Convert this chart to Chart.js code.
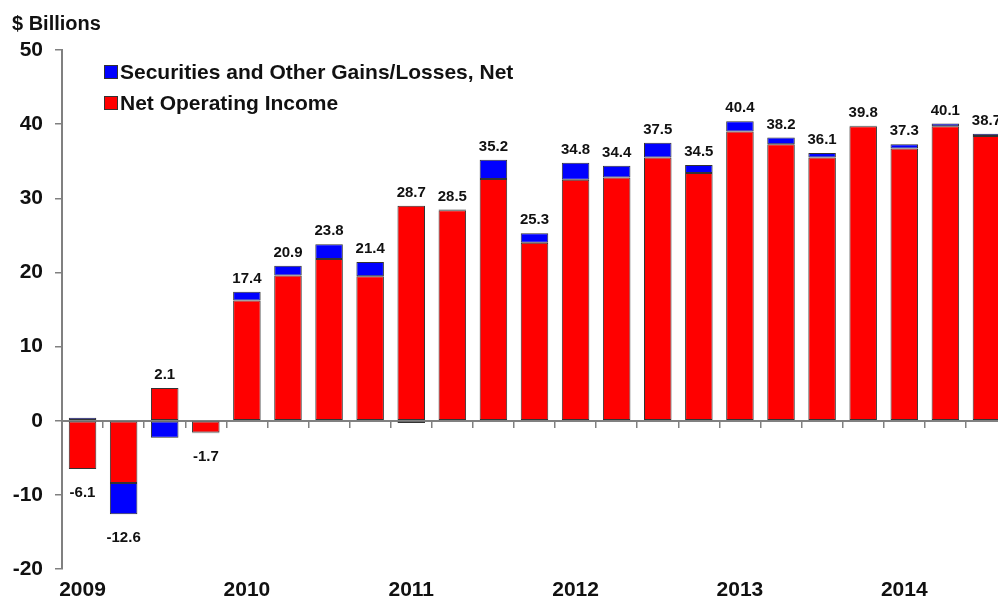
<!DOCTYPE html>
<html lang="en">
<head>
    <meta charset="UTF-8"/>
    <title>Net Income</title>
    <script src="https://cdn.jsdelivr.net/npm/chart.js"></script>
    <style>
        html, body { margin: 0; padding: 0; overflow: hidden; background: #fff; }
        .chart-container { position: relative; width: 1010px; height: 603px; }
    </style>
</head>
<body>
<div class="chart-container">
    <canvas id="grafico"></canvas>
</div>

<script>
    // quarterly values, $ billions
    const categories = [
        '2009 Q1', '2009 Q2', '2009 Q3', '2009 Q4',
        '2010 Q1', '2010 Q2', '2010 Q3', '2010 Q4',
        '2011 Q1', '2011 Q2', '2011 Q3', '2011 Q4',
        '2012 Q1', '2012 Q2', '2012 Q3', '2012 Q4',
        '2013 Q1', '2013 Q2', '2013 Q3', '2013 Q4',
        '2014 Q1', '2014 Q2', '2014 Q3'
    ];
    const netOperatingIncome = [
        -6.5, -8.4, 4.4, -1.6,
        16.2, 19.6, 21.8, 19.5,
        29.0, 28.4, 32.6, 24.0,
        32.5, 32.8, 35.5, 33.4,
        39.0, 37.3, 35.5, 39.7,
        36.7, 39.7, 38.4
    ];
    const securitiesGains = [
        0.4, -4.2, -2.3, -0.1,
        1.2, 1.3, 2.0, 1.9,
        -0.3, 0.1, 2.6, 1.3,
        2.3, 1.6, 2.0, 1.1,
        1.4, 0.9, 0.6, 0.1,
        0.6, 0.4, 0.3
    ];
    const totals = [
        -6.1, -12.6, 2.1, -1.7,
        17.4, 20.9, 23.8, 21.4,
        28.7, 28.5, 35.2, 25.3,
        34.8, 34.4, 37.5, 34.5,
        40.4, 38.2, 36.1, 39.8,
        37.3, 40.1, 38.7
    ];
    const yearLabels = ['2009', '2010', '2011', '2012', '2013', '2014'];
    const yTicks = [-20, -10, 0, 10, 20, 30, 40, 50];

    const FONT = '"Liberation Sans", Arial, sans-serif';
    const RED = '#ff0000';
    const BLUE = '#0000ff';
    const AXIS = '#808080';

    // total value above / below each bar
    const totalLabels = {
        id: 'totalLabels',
        afterDatasetsDraw(chart) {
            const { ctx } = chart;
            const x = chart.scales.x;
            const y = chart.scales.y;
            ctx.save();
            ctx.font = 'bold 15px ' + FONT;
            ctx.fillStyle = '#111';
            ctx.textAlign = 'center';
            ctx.textBaseline = 'middle';
            totals.forEach((t, i) => {
                const a = netOperatingIncome[i];
                const b = securitiesGains[i];
                const top = Math.max(a, 0) + Math.max(b, 0);
                const bottom = Math.min(a, 0) + Math.min(b, 0);
                const px = x.getPixelForValue(i);
                const py = t >= 0 ? y.getPixelForValue(top) - 13 : y.getPixelForValue(bottom) + 24;
                ctx.fillText(t.toFixed(1), px, py);
            });
            ctx.restore();
        }
    };

    // unit title and legend inside the plot
    const extras = {
        id: 'extras',
        afterDraw(chart) {
            const { ctx } = chart;
            ctx.save();
            ctx.fillStyle = '#111';
            ctx.textBaseline = 'middle';
            ctx.textAlign = 'left';
            ctx.font = 'bold 20px ' + FONT;
            ctx.fillText('$ Billions', 12, 24);

            const items = [
                { text: chart.data.datasets[1].label, color: BLUE, y: 72 },
                { text: chart.data.datasets[0].label, color: RED, y: 103 }
            ];
            ctx.font = 'bold 21px ' + FONT;
            items.forEach(it => {
                ctx.fillStyle = it.color;
                ctx.fillRect(104, it.y - 7, 14, 14);
                ctx.strokeStyle = '#333';
                ctx.lineWidth = 1;
                ctx.strokeRect(104.5, it.y - 6.5, 13, 13);
                ctx.fillStyle = '#111';
                ctx.fillText(it.text, 120, it.y + 1);
            });
            ctx.restore();
        }
    };

    window.onload = function() {
        const data = {
            labels: categories,
            datasets: [
                {
                    label: 'Net Operating Income',
                    data: netOperatingIncome,
                    backgroundColor: RED,
                    borderColor: '#333',
                    borderWidth: 1,
                    borderSkipped: false
                },
                {
                    label: 'Securities and Other Gains/Losses, Net',
                    data: securitiesGains,
                    backgroundColor: BLUE,
                    borderColor: '#333',
                    borderWidth: 1,
                    borderSkipped: false
                }
            ]
        };

        const config = {
            type: 'bar',
            data: data,
            options: {
                responsive: true,
                maintainAspectRatio: false,
                animation: false,
                categoryPercentage: 1,
                barPercentage: 0.67,
                layout: { padding: { top: 50, right: 3, left: 0, bottom: 0 } },
                plugins: {
                    legend: { display: false },
                    tooltip: { enabled: false }
                },
                scales: {
                    x: {
                        stacked: true,
                        position: { y: 0 },
                        offset: true,
                        grid: {
                            display: true,
                            offset: true,
                            drawOnChartArea: false,
                            drawTicks: true,
                            tickLength: 6,
                            color: AXIS,
                            lineWidth: 1.5
                        },
                        border: { display: true, color: AXIS, width: 2 },
                        ticks: { display: false }
                    },
                    x2: {
                        type: 'category',
                        labels: categories,
                        position: 'bottom',
                        offset: true,
                        grid: { display: false, drawTicks: false },
                        border: { display: false },
                        ticks: {
                            autoSkip: false,
                            maxRotation: 0,
                            padding: 9,
                            color: '#111',
                            font: { family: FONT, size: 21, weight: 'bold' },
                            callback: function(value, index) {
                                return index % 4 === 0 ? yearLabels[index / 4] : '';
                            }
                        },
                        afterFit: function(s) { s.height = 34; }
                    },
                    y: {
                        stacked: true,
                        min: yTicks[0],
                        max: yTicks[yTicks.length - 1],
                        afterBuildTicks: function(s) {
                            s.ticks = yTicks.map(v => ({ value: v }));
                        },
                        grid: {
                            drawOnChartArea: false,
                            drawTicks: true,
                            tickLength: 7,
                            color: AXIS,
                            lineWidth: 1.5
                        },
                        border: { display: true, color: AXIS, width: 2 },
                        ticks: {
                            padding: 12,
                            color: '#111',
                            font: { family: FONT, size: 21, weight: 'bold' }
                        },
                        afterFit: function(s) { s.width = 62; }
                    }
                }
            },
            plugins: [totalLabels, extras]
        };

        const ctx = document.getElementById('grafico').getContext('2d');
        new Chart(ctx, config);
    };
</script>
</body>
</html>
